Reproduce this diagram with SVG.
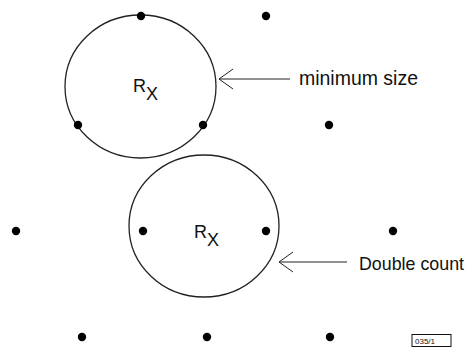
<svg xmlns="http://www.w3.org/2000/svg" width="471" height="347" viewBox="0 0 471 347">
<style>
.ring{fill:none;stroke:#222;stroke-width:1.3}
.dot{fill:#000}
.arr{fill:none;stroke:#222;stroke-width:1}
.lbl{font-family:"Liberation Sans","DejaVu Sans",sans-serif;font-size:20px;fill:#111}
.rx{font-family:"Liberation Sans","DejaVu Sans",sans-serif;font-size:18px;fill:#111}
.tag{font-family:"Liberation Sans","DejaVu Sans",sans-serif;font-size:8px;fill:#111}
</style>
<rect width="471" height="347" fill="#fff"/>
<g id="circle1">
<ellipse class="ring" cx="140.5" cy="86.5" rx="75.5" ry="71.5"/>
<text class="rx" x="133" y="92">R<tspan dy="8">X</tspan></text>
</g>
<g id="circle2">
<ellipse class="ring" cx="204" cy="226" rx="75" ry="71"/>
<text class="rx" x="194" y="238">R<tspan dy="8">X</tspan></text>
</g>
<g id="points">
<circle class="dot" cx="141" cy="16" r="4.2"/>
<circle class="dot" cx="78" cy="125" r="4.2"/>
<circle class="dot" cx="203" cy="125" r="4.2"/>
<circle class="dot" cx="266" cy="16" r="4.2"/>
<circle class="dot" cx="329" cy="125" r="4.2"/>
<circle class="dot" cx="16" cy="231" r="4.2"/>
<circle class="dot" cx="143" cy="231" r="4.2"/>
<circle class="dot" cx="266" cy="231" r="4.2"/>
<circle class="dot" cx="393" cy="231" r="4.2"/>
<circle class="dot" cx="82" cy="337" r="4.2"/>
<circle class="dot" cx="207" cy="337" r="4.2"/>
<circle class="dot" cx="330" cy="337" r="4.2"/>
</g>
<g id="connectors">
<path class="arr" d="M219 79 H290 M233 69 L219 79 L233 89"/>
<path class="arr" d="M279 262 H347 M293 252 L279 262 L293 272"/>
</g>
<g id="label-min">
<text class="lbl" x="299" y="85" textLength="119" lengthAdjust="spacingAndGlyphs">minimum size</text>
</g>
<g id="label-double">
<text class="lbl" x="359" y="270" style="font-size:18.5px" textLength="105" lengthAdjust="spacingAndGlyphs">Double count</text>
</g>
<g id="tag">
<rect x="412" y="334.5" width="39" height="12" fill="none" stroke="#111" stroke-width="1"/>
<text class="tag" x="415" y="344">035/1</text>
</g>
</svg>
